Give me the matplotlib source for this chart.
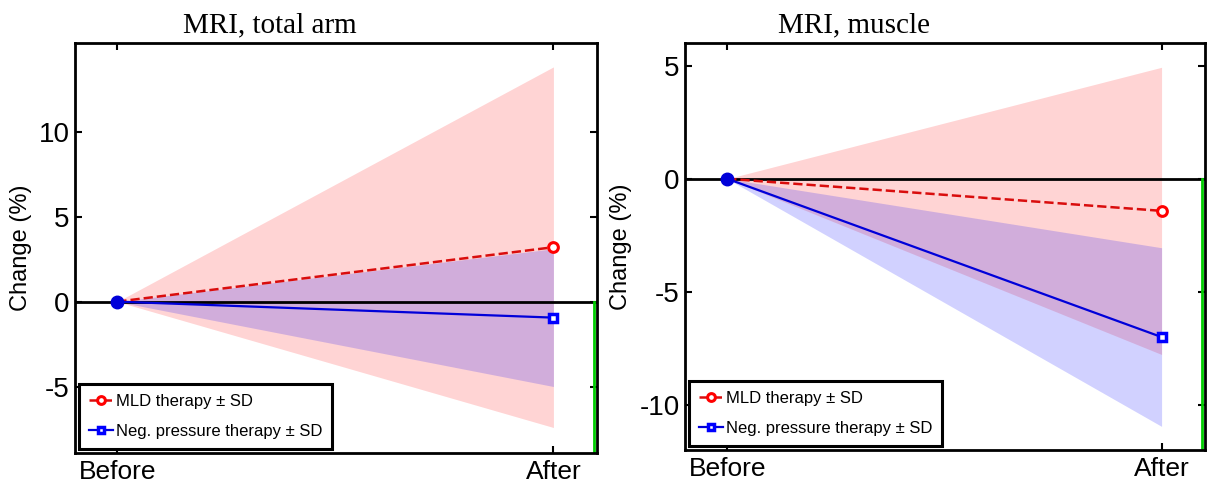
import matplotlib.pyplot as plt
import numpy as np

plt.rcParams['font.family'] = ['Liberation Sans', 'DejaVu Sans']

x_labels = ["Before", "After"]
x = np.array([0, 1])

# MRI, total arm (% change)
arm_mld = [0, 3.2]
arm_mld_sd = [0, 10.6]
arm_neg = [0, -0.94]
arm_neg_sd = [0, 4.05]

# MRI, muscle (% change)
mus_mld = [0, -1.42]
mus_mld_sd = [0, 6.35]
mus_neg = [0, -7.0]
mus_neg_sd = [0, 3.95]

titles = ["MRI, total arm", "MRI, muscle"]
title_x = [0.374, 0.325]
ylims = [(-8.9, 15.2), (-12.0, 6.0)]
yticks = [[-5, 0, 5, 10], [-10, -5, 0, 5]]

fig = plt.figure(figsize=(12.14, 4.84), dpi=100)
ax1 = fig.add_axes([0.0618, 0.064, 0.430, 0.847])
ax2 = fig.add_axes([0.5643, 0.070, 0.4283, 0.841])

panels = [(ax1, arm_mld, arm_mld_sd, arm_neg, arm_neg_sd),
          (ax2, mus_mld, mus_mld_sd, mus_neg, mus_neg_sd)]

for i, (ax, mld, mld_sd, neg, neg_sd) in enumerate(panels):
    mld = np.array(mld); mld_sd = np.array(mld_sd)
    neg = np.array(neg); neg_sd = np.array(neg_sd)

    ax.fill_between(x, mld - mld_sd, mld + mld_sd, color=(1, 0, 0), alpha=0.17, lw=0)
    ax.fill_between(x, neg - neg_sd, neg + neg_sd, color=(0, 0, 1), alpha=0.18, lw=0)
    ax.axhline(0, color='black', lw=2, zorder=2)

    ax.plot(x, mld, '--', color=(0.85, 0.05, 0.05), lw=1.8, marker='o', ms=7,
            mfc='white', mec='red', mew=2.2, markevery=[1], zorder=3,
            label="MLD therapy \u00b1 SD")
    ax.plot(x, neg, '-', color=(0, 0, 0.85), lw=1.6, marker='s', ms=6,
            mfc='white', mec='blue', mew=2.5, markevery=[1], zorder=3,
            label="Neg. pressure therapy \u00b1 SD")
    ax.plot([0], [0], 'o', color=(0, 0, 0.85), ms=9, zorder=4)

    # green line on the right edge below zero
    lo, hi = ylims[i]
    ax.plot([1.093, 1.093], [lo, 0], color=(0, 0.8, 0), lw=2, zorder=2)

    ax.set_xlim(-0.097, 1.10)
    ax.set_ylim(*ylims[i])
    ax.set_xticks(x)
    ax.set_xticklabels(x_labels, fontsize=19)
    ax.set_yticks(yticks[i])
    ax.set_yticklabels([str(v) for v in yticks[i]], fontsize=20)
    ax.tick_params(direction='in', length=5, width=1.5, top=True, right=True, pad=4)
    ax.tick_params(axis='x', pad=5)
    for s in ax.spines.values():
        s.set_linewidth(2)
    ax.set_ylabel("Change (%)", fontsize=17, labelpad=5)
    ax.set_title(titles[i], fontsize=21, family='Liberation Serif', pad=8, x=title_x[i])

    leg = ax.legend(loc='lower left', fontsize=12, fancybox=False, framealpha=1,
                    borderaxespad=0.25, handlelength=1.4, handletextpad=0.2,
                    borderpad=0.6, labelspacing=0.9, markerscale=0.8)
    leg.get_frame().set_edgecolor('black')
    leg.get_frame().set_linewidth(2.2)

plt.savefig("out.png", dpi=100)
